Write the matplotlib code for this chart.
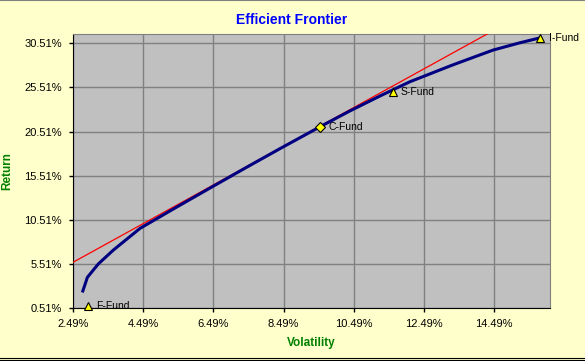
import matplotlib
matplotlib.use("Agg")
import matplotlib.pyplot as plt
import numpy as np
from matplotlib.lines import Line2D
from matplotlib.ticker import FuncFormatter, FixedLocator

plt.rcParams['font.family'] = ['Liberation Sans', 'DejaVu Sans']

# efficient frontier (volatility %, return %)
frontier_vol = [2.77, 2.90, 3.21, 3.64, 4.40, 5.40, 6.39, 7.40, 8.39, 9.53, 10.38,
                11.24, 12.09, 13.30, 14.46, 15.20, 15.81]
frontier_ret = [2.44, 3.99, 5.50, 7.08, 9.54, 11.85, 14.10, 16.38, 18.58, 21.06, 22.85,
                24.55, 26.16, 28.05, 29.75, 30.55, 31.15]

# individual funds
fund_names = ["F-Fund", "C-Fund", "S-Fund", "I-Fund"]
fund_vol = [2.91, 9.53, 11.60, 15.81]
fund_ret = [0.74, 21.06, 24.96, 31.15]
fund_markers = ["^", "D", "^", "^"]

# capital market line: risk-free return and slope
rf_rate = 0.23
cml_slope = 2.193

x_ticks = [2.49, 4.49, 6.49, 8.49, 10.49, 12.49, 14.49]
y_ticks = [0.51, 5.51, 10.51, 15.51, 20.51, 25.51, 30.51]
x_lim = (2.49, 16.09)
y_lim = (0.51, 31.57)

fig = plt.figure(figsize=(5.85, 3.61), dpi=100, facecolor="#FFFFCC")
ax = fig.add_axes([0.1248, 0.1468, 0.8159, 0.7590])
ax.set_facecolor("#C0C0C0")

ax.set_xlim(*x_lim)
ax.set_ylim(*y_lim)
ax.xaxis.set_major_locator(FixedLocator(x_ticks))
ax.yaxis.set_major_locator(FixedLocator(y_ticks))
pct = FuncFormatter(lambda v, p: f"{v:.2f}%")
ax.xaxis.set_major_formatter(pct)
ax.yaxis.set_major_formatter(pct)
ax.grid(True, color="#808080", linewidth=1)
ax.set_axisbelow(True)
ax.tick_params(labelsize=8, length=3, width=1, pad=5, colors="black")

for side in ["top", "right"]:
    ax.spines[side].set_color("#808080")
for side in ["left", "bottom"]:
    ax.spines[side].set_color("black")

xs = np.array(x_lim)
ax.plot(xs, rf_rate + cml_slope * xs, color="#FF0000", linewidth=0.9, zorder=3)
ax.plot(frontier_vol, frontier_ret, color="#000080", linewidth=2.2, zorder=4)

for name, v, r, m in zip(fund_names, fund_vol, fund_ret, fund_markers):
    ax.plot(v, r, marker=m, markersize=6 if m == "^" else 5.5, markerfacecolor="#FFFF00",
            markeredgecolor="black", markeredgewidth=0.8, linestyle="none",
            zorder=5, clip_on=False)
    ax.annotate(name, (v, r), xytext=(6, 0), textcoords="offset points",
                fontsize=7.5, va="center", ha="left", annotation_clip=False)

fig.text(0.498, 0.945, "Efficient Frontier", color="#0000FF", fontsize=10,
         fontweight="bold", ha="center", va="center")
ax.set_xlabel("Volatility", color="#008000", fontsize=8.5, fontweight="bold", labelpad=6)
ax.set_ylabel("Return", color="#008000", fontsize=8.5, fontweight="bold", labelpad=8)

# chart border lines
fig.add_artist(Line2D([0, 1], [0.999, 0.999], color="#808080", linewidth=1.5))
fig.add_artist(Line2D([0, 1], [0.008, 0.008], color="black", linewidth=0.8))
fig.add_artist(Line2D([0, 1], [0.002, 0.002], color="black", linewidth=0.8))

fig.savefig("out.png", dpi=100, facecolor=fig.get_facecolor())
